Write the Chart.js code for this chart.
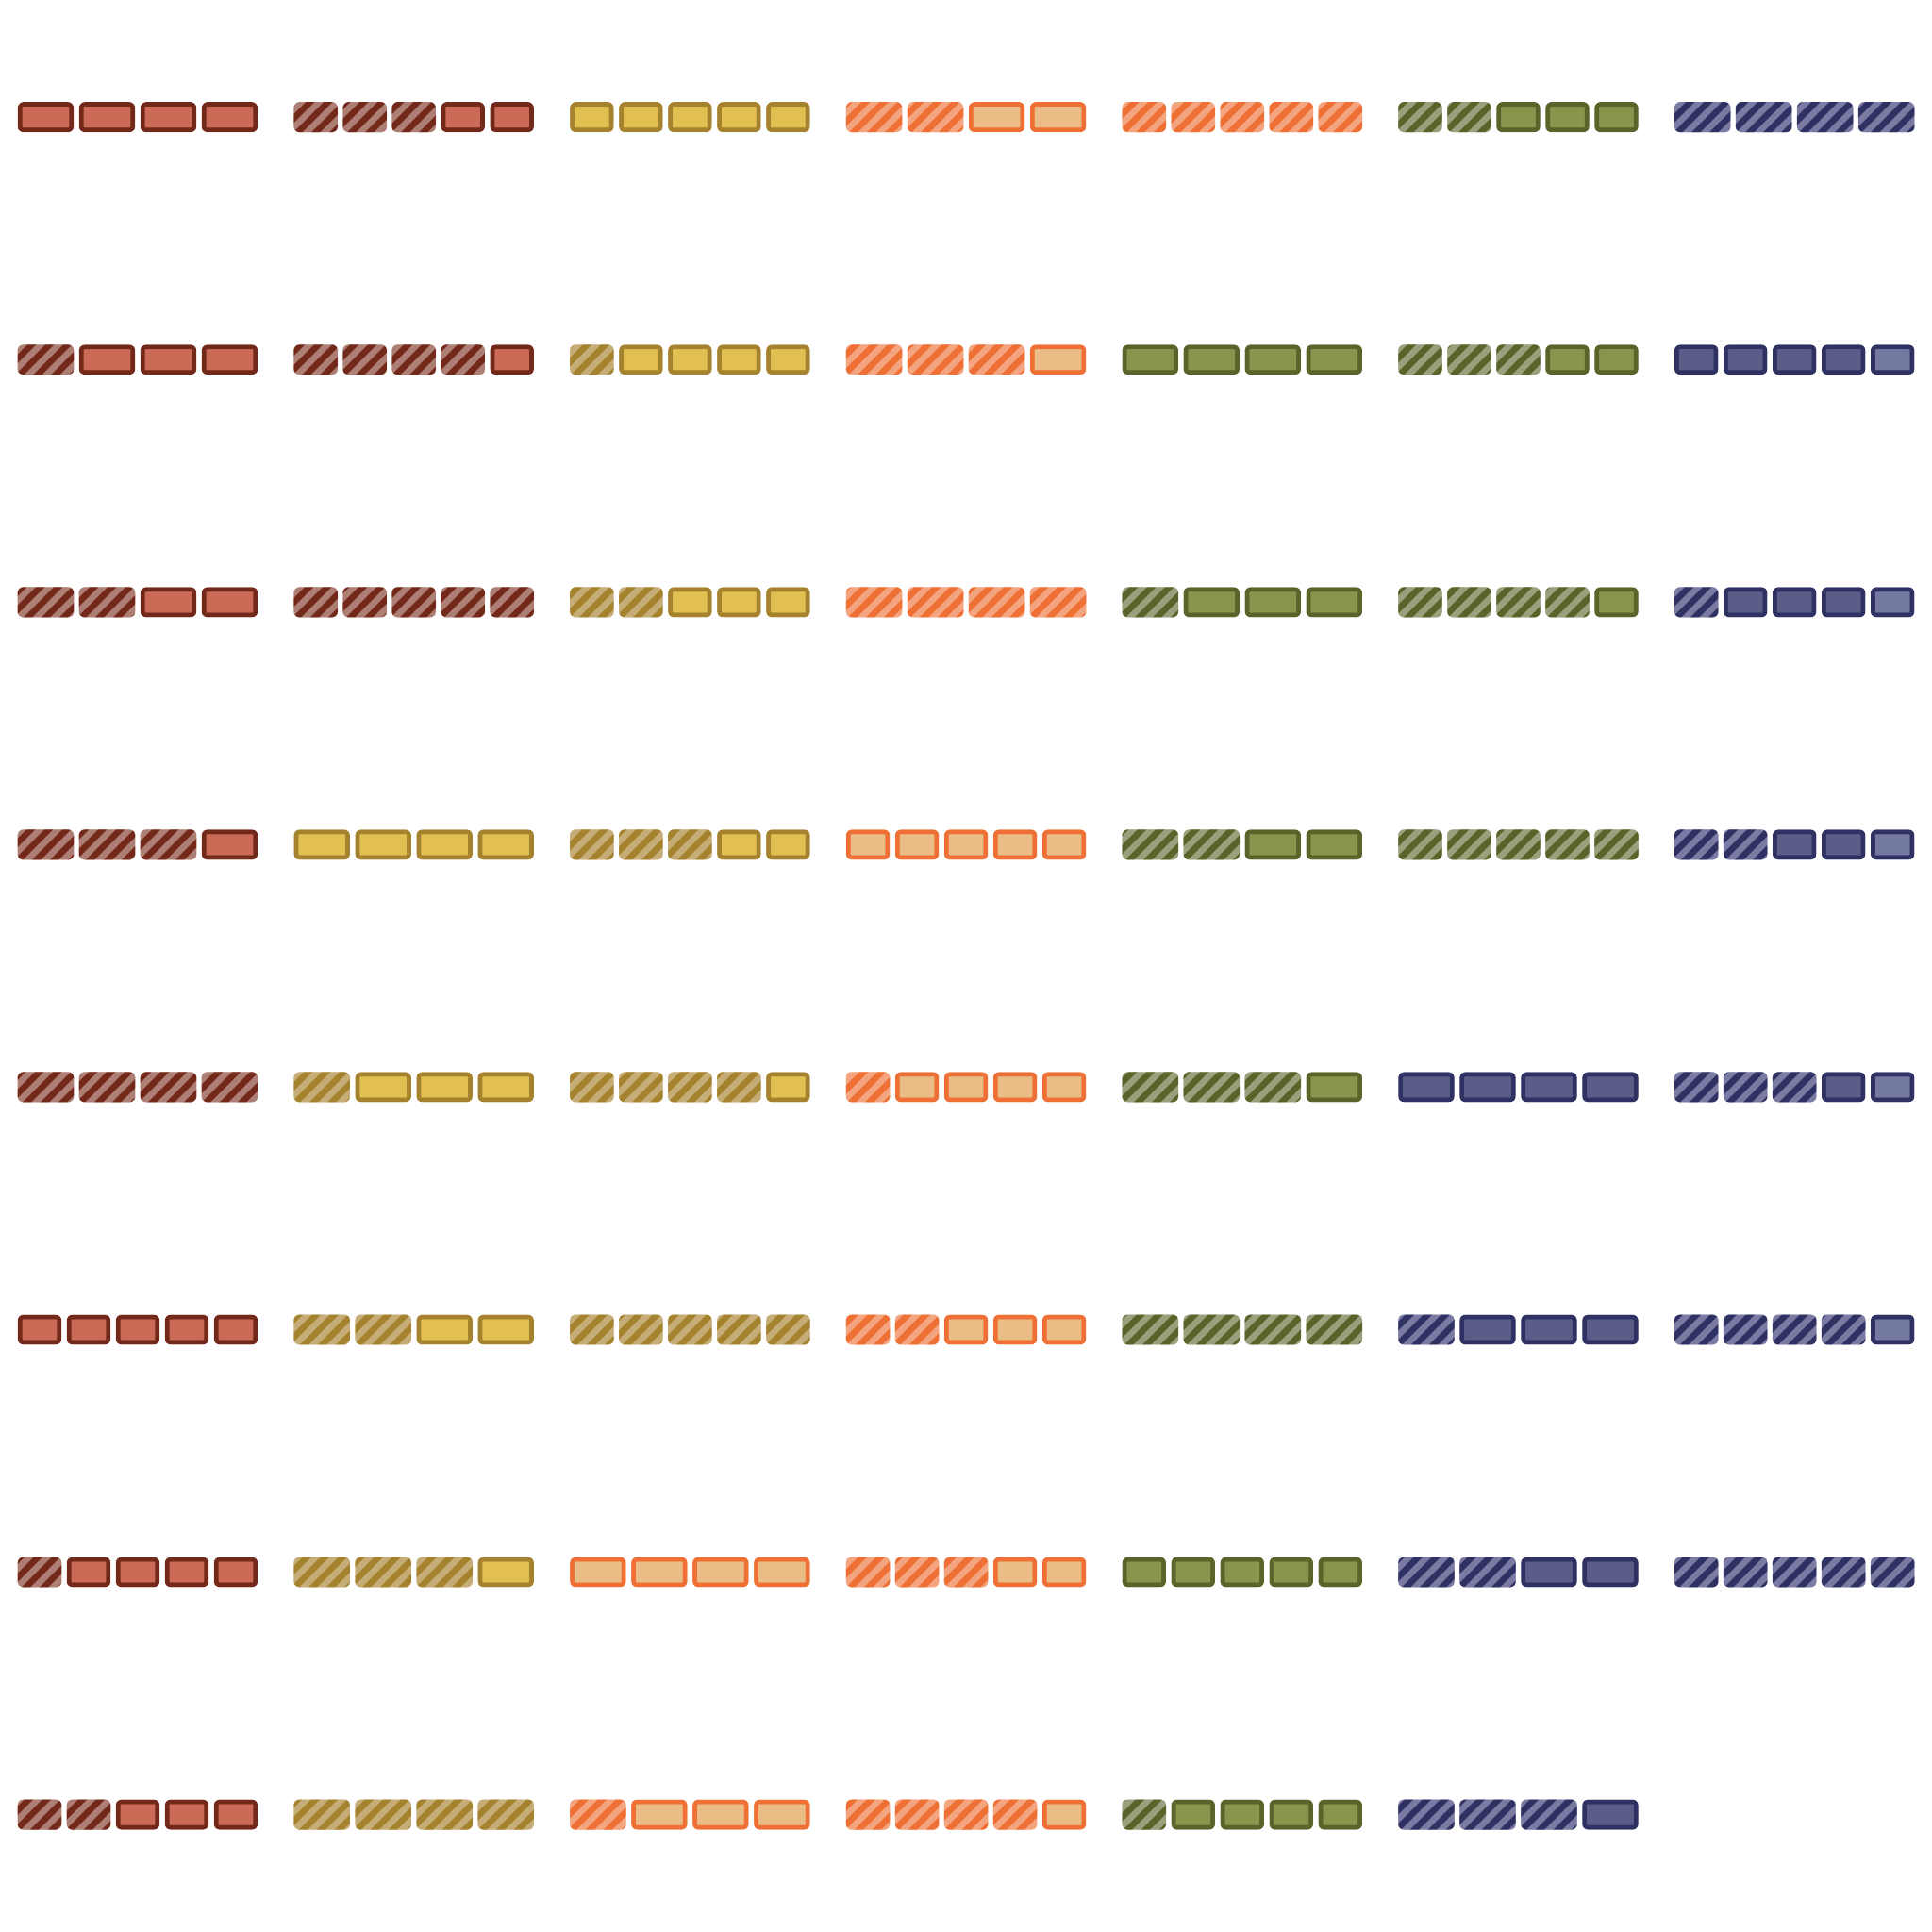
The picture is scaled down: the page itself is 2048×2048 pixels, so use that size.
<!DOCTYPE html>
<html><head><meta charset="utf-8">
<script src="https://cdn.jsdelivr.net/npm/chart.js@4.4.1/dist/chart.umd.min.js"></script>
<style>html,body{margin:0;padding:0;background:#fff}canvas{display:block}</style>
</head><body>
<canvas id="c" width="2048" height="2048" style="width:2048px;height:2048px"></canvas>
<script>
// Rows of the grid (category axis)
const rowLabels = ['r1','r2','r3','r4','r5','r6','r7','r8'];

// Cells in column-major order (8 per column, 7 columns, last column has 7)
const cellFamily = [
  'red','red','red','red','red','red','red','red',
  'red','red','red','yellow','yellow','yellow','yellow','yellow',
  'yellow','yellow','yellow','yellow','yellow','yellow','orange','orange',
  'orange','orange','orange','orange','orange','orange','orange','orange',
  'orange','green','green','green','green','green','green','green',
  'green','green','green','green','blue','blue','blue','blue',
  'blue','blue','blue','blue','blue','blue','blue'
];
const cellUnits = [
  4,4,4,4,4,5,5,5,
  5,5,5,4,4,4,4,4,
  5,5,5,5,5,5,4,4,
  4,4,4,5,5,5,5,5,
  5,4,4,4,4,4,5,5,
  5,5,5,5,4,4,4,4,
  4,5,5,5,5,5,5
];
const cellHatched = [
  0,1,2,3,4,0,1,2,
  3,4,5,0,1,2,3,4,
  0,1,2,3,4,5,0,1,
  2,3,4,0,1,2,3,4,
  5,0,1,2,3,4,0,1,
  2,3,4,5,0,1,2,3,
  4,0,1,2,3,4,5
];

const palette = {
  red:    {fill:'#CC6A58', dark:'#73291A', light:'#AD7F74'},
  yellow: {fill:'#E1BF50', dark:'#A5832E', light:'#C6AC76'},
  orange: {fill:'#EBBD86', dark:'#EE7035', light:'#F4A47F'},
  green:  {fill:'#89954C', dark:'#5A6329', light:'#9A9F7C'},
  blue:   {fill:'#5A5D88', dark:'#2F3163', light:'#7A7AA2', fifth:'#7479A1'}
};

const canvas = document.getElementById('c');
const ctx = canvas.getContext('2d');

function makeHatch(dark, light) {
  const s = 19;
  const c = document.createElement('canvas');
  c.width = s; c.height = s;
  const g = c.getContext('2d');
  g.fillStyle = light; g.fillRect(0, 0, s, s);
  g.strokeStyle = dark; g.lineWidth = s / Math.SQRT2 / 2;
  g.beginPath();
  g.moveTo(-6, 6); g.lineTo(6, -6);
  g.moveTo(-6, s + 6); g.lineTo(s + 6, -6);
  g.moveTo(s - 6, s + 6); g.lineTo(s + 6, s - 6);
  g.stroke();
  return ctx.createPattern(c, 'repeat');
}
const hatches = {};
Object.keys(palette).forEach(k => { hatches[k] = makeHatch(palette[k].dark, palette[k].light); });

const cellSpan = 0.8678;   // cell width in column units
const unitGap = 0.0205;    // gap between units in column units

const datasets = cellFamily.map((fam, i) => {
  const row = rowLabels[i % rowLabels.length];
  const col = Math.floor(i / rowLabels.length);
  const n = cellUnits[i];
  const h = cellHatched[i];
  const pitch = (cellSpan + unitGap) / n;
  const data = [], bg = [], bw = [];
  for (let j = 0; j < n; j++) {
    const s = col + j * pitch;
    data.push({x: [s, s + pitch - unitGap], y: row});
    if (j < h) { bg.push(hatches[fam]); bw.push(0); }
    else {
      bg.push(fam === 'blue' && n === 5 && j === 4 ? palette.blue.fifth : palette[fam].fill);
      bw.push(5);
    }
  }
  return {
    data, backgroundColor: bg, borderWidth: bw, borderColor: palette[fam].dark,
    grouped: false, barThickness: 31.5, borderRadius: 6, borderSkipped: false, clip: false
  };
});

new Chart(ctx, {
  type: 'bar',
  data: { labels: rowLabels, datasets },
  options: {
    responsive: false, animation: false, events: [],
    indexAxis: 'y',
    layout: { padding: { left: 19, right: 18.8, top: 124.2, bottom: 124.4 } },
    scales: {
      x: { type: 'linear', min: 0, max: 6 + cellSpan, display: false },
      y: { type: 'category', offset: false, display: false }
    },
    plugins: { legend: { display: false }, tooltip: { enabled: false } }
  }
});
</script>
</body></html>
